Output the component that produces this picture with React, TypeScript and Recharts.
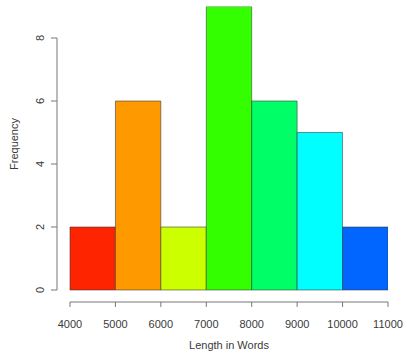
import React from "react";
import { ComposedChart, Bar, XAxis, YAxis, ReferenceLine, Cell } from "recharts";

const binStarts = [4000, 5000, 6000, 7000, 8000, 9000, 10000];
const binWidth = 1000;
const frequencies = [2, 6, 2, 9, 6, 5, 2];
const barColors = ["#FF2400", "#FF9900", "#CCFF00", "#33FF00", "#00FF66", "#00FFFF", "#0066FF"];
const xTicks = [4000, 5000, 6000, 7000, 8000, 9000, 10000, 11000];
const yTicks = [0, 2, 4, 6, 8];

const data = binStarts.map((s, i) => ({ mid: s + binWidth / 2, freq: frequencies[i] }));

const FONT = "Liberation Sans, Arial, Helvetica, sans-serif";
const TEXT = "#3a3a3a";
const AXIS = "#777777";

const XTick = (props: any) => {
  const { x, y, payload } = props;
  return (
    <text x={x} y={y + 18.5} textAnchor="middle" fontSize={11} fontFamily={FONT} fill={TEXT}>
      {payload.value}
    </text>
  );
};

const YTick = (props: any) => {
  const { y, payload } = props;
  const cx = 40;
  return (
    <text
      x={cx}
      y={y}
      transform={`rotate(-90 ${cx} ${y})`}
      textAnchor="middle"
      dy={4}
      fontSize={11}
      fontFamily={FONT}
      fill={TEXT}
    >
      {payload.value}
    </text>
  );
};

export default function App() {
  const xMin = 3714;
  return (
    <div style={{ position: "absolute", left: 0, top: 0, background: "#fff" }}>
      <ComposedChart
        width={404}
        height={351}
        data={data}
        margin={{ top: 6.5, right: 16, bottom: 0, left: 0 }}
        barCategoryGap={0}
        barGap={0}
      >
        <XAxis
          dataKey="mid"
          type="number"
          domain={[xMin, 11000]}
          allowDataOverflow
          ticks={xTicks}
          interval={0}
          axisLine={false}
          tickLine={{ stroke: AXIS }}
          tickSize={5}
          height={49}
          tick={<XTick />}
        />
        <YAxis
          type="number"
          domain={[-0.381, 9]}
          allowDataOverflow
          ticks={yTicks}
          interval={0}
          axisLine={false}
          tickLine={{ stroke: AXIS }}
          tickSize={6}
          width={57}
          tick={<YTick />}
        />
        <ReferenceLine
          segment={[{ x: 4000, y: -0.381 }, { x: 11000, y: -0.381 }]}
          stroke={AXIS}
          ifOverflow="visible"
        />
        <ReferenceLine
          segment={[{ x: xMin, y: 0 }, { x: xMin, y: 8 }]}
          stroke={AXIS}
          ifOverflow="visible"
        />
        <Bar dataKey="freq" isAnimationActive={false} barSize={45.4} stroke="#333" strokeOpacity={0.55} strokeWidth={1}>
          {data.map((d, i) => (
            <Cell key={i} fill={barColors[i]} />
          ))}
        </Bar>
      </ComposedChart>
      <div
        style={{
          position: "absolute",
          left: 229,
          top: 345,
          transform: "translate(-50%, -50%)",
          fontFamily: FONT,
          fontSize: 11,
          color: TEXT,
          whiteSpace: "nowrap",
        }}
      >
        Length in Words
      </div>
      <div
        style={{
          position: "absolute",
          left: 14,
          top: 144,
          transform: "translate(-50%, -50%) rotate(-90deg)",
          fontFamily: FONT,
          fontSize: 11,
          color: TEXT,
          whiteSpace: "nowrap",
        }}
      >
        Frequency
      </div>
    </div>
  );
}
